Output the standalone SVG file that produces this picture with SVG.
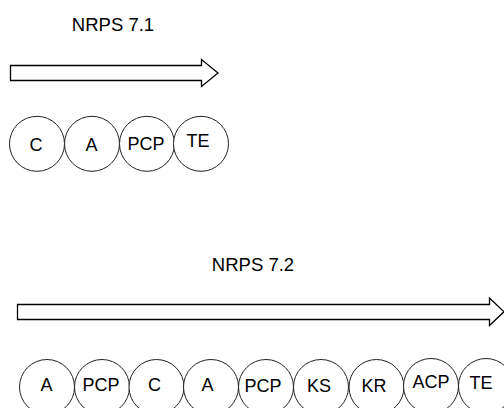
<svg xmlns="http://www.w3.org/2000/svg" width="504" height="408" viewBox="0 0 504 408">
<style>
.t{font-family:"Liberation Sans",Arial,sans-serif;fill:#000;text-anchor:middle}
.title{font-size:18.5px}
.lbl{font-size:18px}
.c{fill:#fff;stroke:#222;stroke-width:1}
.arr{fill:#fff;stroke:#000;stroke-width:1.3}
</style>
<rect width="504" height="408" fill="#fff"/>
<g id="title1"><text class="t title" x="113" y="30.5">NRPS 7.1</text></g>
<g id="arrow1"><polygon class="arr" points="10.5,65.5 201.5,65.5 201.5,59.5 218,73 201.5,86.5 201.5,80.5 10.5,80.5"/></g>
<g id="n1_C"><circle class="c" cx="37" cy="143.8" r="27.5"/><text class="t lbl" x="36" y="150.5">C</text></g>
<g id="n1_A"><circle class="c" cx="92" cy="143.8" r="27.5"/><text class="t lbl" x="91.5" y="150.5">A</text></g>
<g id="n1_PCP"><circle class="c" cx="147" cy="143.8" r="27.5"/><text class="t lbl" x="146" y="149.5">PCP</text></g>
<g id="n1_TE"><circle class="c" cx="201" cy="143.8" r="27.5"/><text class="t lbl" x="198" y="147">TE</text></g>
<g id="title2"><text class="t title" x="253" y="270.5">NRPS 7.2</text></g>
<g id="arrow2"><polygon class="arr" points="17.5,304.5 489.5,304.5 489.5,298 504,311.8 489.5,325.5 489.5,319.5 17.5,319.5"/></g>
<g id="n2_A1"><circle class="c" cx="47" cy="387" r="27.5"/><text class="t lbl" x="46.5" y="391">A</text></g>
<g id="n2_PCP1"><circle class="c" cx="102" cy="387" r="27.5"/><text class="t lbl" x="101" y="391">PCP</text></g>
<g id="n2_C"><circle class="c" cx="156.5" cy="387" r="27.5"/><text class="t lbl" x="154.5" y="391">C</text></g>
<g id="n2_A2"><circle class="c" cx="211" cy="387" r="27.5"/><text class="t lbl" x="207.5" y="391">A</text></g>
<g id="n2_PCP2"><circle class="c" cx="266" cy="387" r="27.5"/><text class="t lbl" x="263" y="392">PCP</text></g>
<g id="n2_KS"><circle class="c" cx="321" cy="387" r="27.5"/><text class="t lbl" x="319" y="392">KS</text></g>
<g id="n2_KR"><circle class="c" cx="376.5" cy="387" r="27.5"/><text class="t lbl" x="374" y="392">KR</text></g>
<g id="n2_ACP"><circle class="c" cx="431" cy="386" r="27.5"/><text class="t lbl" x="431" y="388">ACP</text></g>
<g id="n2_TE"><circle class="c" cx="486" cy="386" r="27.5"/><text class="t lbl" x="481" y="389">TE</text></g>
</svg>
